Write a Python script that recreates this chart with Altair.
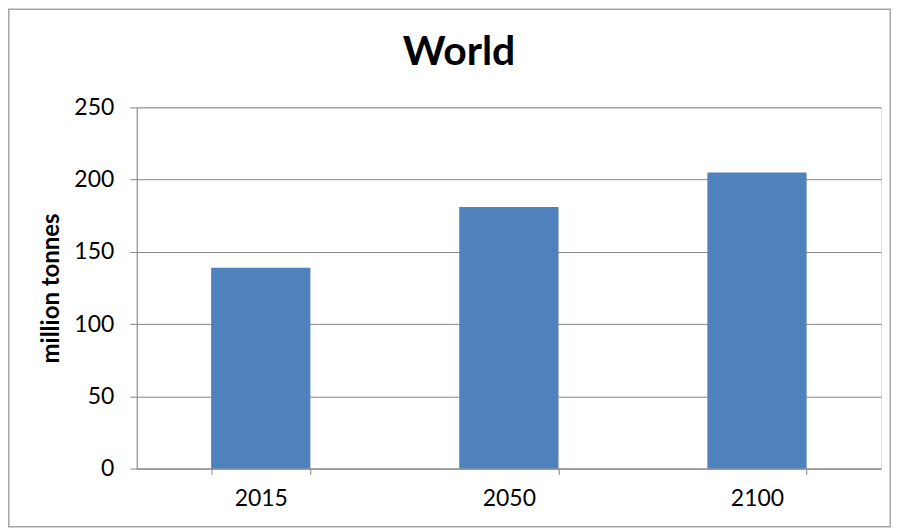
import altair as alt
import pandas as pd

years = ["2015", "2050", "2100"]
values = [139, 181, 205]
title_text = ["World"]

df = pd.DataFrame({"year": years, "value": values})

FONT = "Lato"
PAD_L, PAD_T, PAD_R, PAD_B = 129, 99, 10, 59
W, H = 746, 362

bars = alt.Chart(df).mark_bar(color="#4f81bd").encode(
    x=alt.X("year:N", sort=years, title=None,
            scale=alt.Scale(paddingInner=0.6, paddingOuter=0.3),
            axis=alt.Axis(labelAngle=0, labelFontSize=23, labelFont=FONT,
                          labelColor="#000000", tickBand="extent", tickSize=6,
                          tickColor="#868686", domainColor="#868686",
                          labelPadding=13, grid=False)),
    y=alt.Y("value:Q", title="million tonnes",
            scale=alt.Scale(domain=[0, 250], nice=False),
            axis=alt.Axis(values=[0, 50, 100, 150, 200, 250], labelFontSize=23,
                          labelFont=FONT, labelColor="#000000", tickSize=7,
                          tickColor="#868686", domainColor="#868686",
                          gridColor="#868686", gridOpacity=1, labelPadding=16,
                          titleFont=FONT, titleFontSize=24, titleFontWeight="bold",
                          titleColor="#000000", titlePadding=10)),
)

title = alt.Chart(pd.DataFrame({"t": title_text})).mark_text(
    font=FONT, fontSize=41, fontWeight="bold", color="#000000",
    align="center", baseline="alphabetic"
).encode(
    text="t:N", x=alt.value(460 - 137), y=alt.value(65 - 107),
)

border = alt.Chart(alt.Data(values=[{}])).mark_rect(
    fill=None, stroke="#a6a6a6", strokeWidth=1.5
).encode(
    x=alt.value(-PAD_L + 0.75), x2=alt.value(W + PAD_R - 0.75),
    y=alt.value(-PAD_T + 0.75), y2=alt.value(H + PAD_B - 0.75),
)

chart = alt.layer(bars, title, border).properties(
    width=W, height=H,
    autosize=alt.AutoSizeParams(type="none"),
    padding={"left": PAD_L, "top": PAD_T, "right": PAD_R, "bottom": PAD_B},
).configure_view(stroke=None).configure(background="white")

chart.save("out.html", embed_options={"renderer": "svg", "actions": False})
